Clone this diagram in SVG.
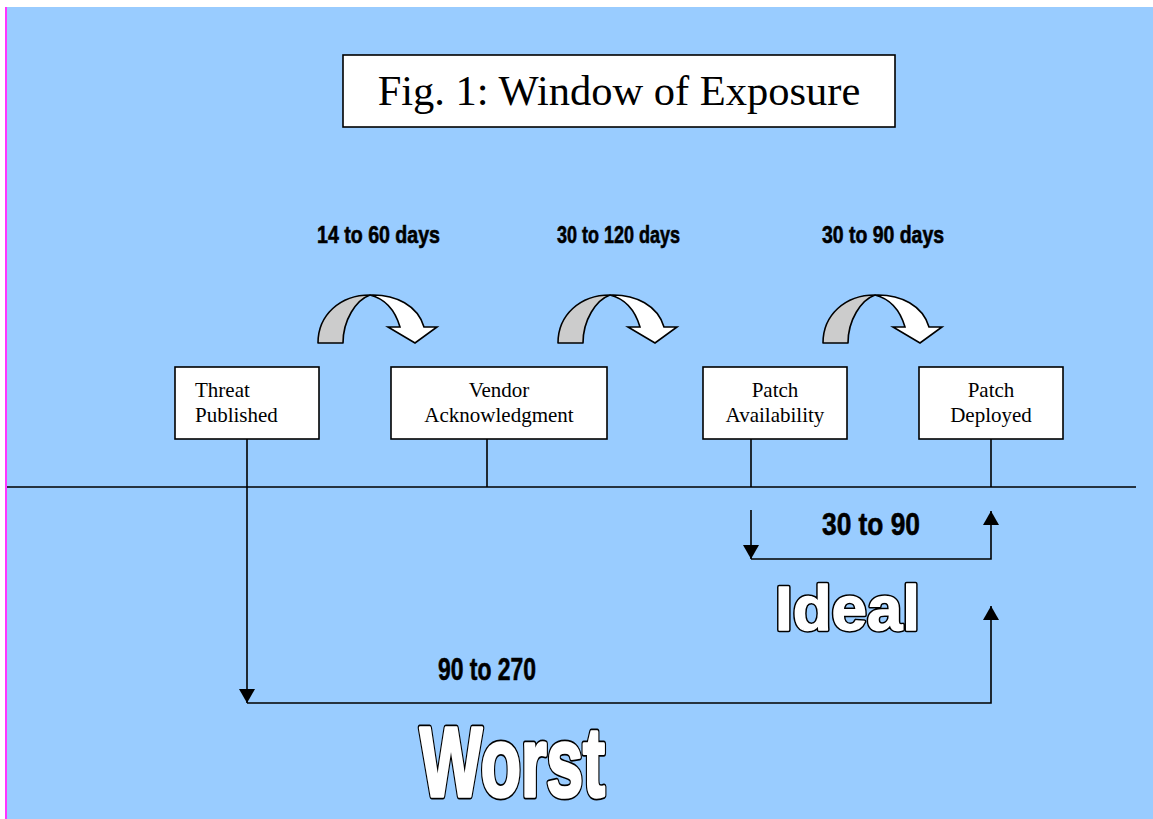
<svg xmlns="http://www.w3.org/2000/svg" width="1153" height="819" viewBox="0 0 1153 819">
<style>
.box{fill:#fff;stroke:#000;stroke-width:1.6}
.serif{font-family:"Liberation Serif","Times New Roman",serif;fill:#000}
.lbl{font-family:"Liberation Sans Narrow","Liberation Sans",Arial,sans-serif;font-weight:bold;fill:#000;stroke:#000;stroke-width:0.6}
.bigo{font-family:"Liberation Sans","Arial",sans-serif;font-weight:bold;fill:#000;stroke:#000;stroke-linejoin:round}
.bigi{font-family:"Liberation Sans","Arial",sans-serif;font-weight:bold;fill:#fff;stroke:#fff;stroke-linejoin:round}
.ln{stroke:#000;stroke-width:1.6;fill:none}
.gray{fill:#cccccc;stroke:#000;stroke-width:1.6;stroke-linejoin:round}
.white{fill:#fff;stroke:#000;stroke-width:1.6;stroke-linejoin:miter}
</style>
<defs>
<marker id="ahb" viewBox="0 0 14 16" refX="14" refY="8" markerWidth="14" markerHeight="16" markerUnits="userSpaceOnUse" orient="auto">
<path d="M0,0 L14,8 L0,16 Z" fill="#000"/>
</marker>
<g id="curve">
<path class="gray" d="M318,343 C318,315 340,295 370,295 C356,300 343,320 343,343 Z"/>
<path class="white" d="M370,295 C396,294 418,306 424,327 L437,327 L415,343 L388,327 L400,327 C395,310 386,299 370,295 Z"/>
</g>
</defs>
<rect x="0" y="0" width="1153" height="819" fill="#fff"/>
<rect x="7" y="7" width="1146" height="812" fill="#99ccff"/>
<line x1="6" y1="7" x2="6" y2="819" stroke="#ff00ff" stroke-width="1.6"/>

<g id="title">
<rect class="box" x="343" y="55" width="552" height="72"/>
<text class="serif" x="619" y="105" font-size="42.5" text-anchor="middle">Fig. 1: Window of Exposure</text>
</g>

<g id="curved-arrows">
<use href="#curve"/>
<use href="#curve" transform="translate(240,0)"/>
<use href="#curve" transform="translate(505,0)"/>
</g>

<g id="duration-labels">
<text class="lbl" x="317" y="243" font-size="24" textLength="123" lengthAdjust="spacingAndGlyphs">14 to 60 days</text>
<text class="lbl" x="557" y="243" font-size="24" textLength="123" lengthAdjust="spacingAndGlyphs">30 to 120 days</text>
<text class="lbl" x="822" y="243" font-size="24" textLength="122" lengthAdjust="spacingAndGlyphs">30 to 90 days</text>
</g>

<g id="threat-published">
<rect class="box" x="175" y="367" width="144" height="72"/>
<text class="serif" x="195" y="397" font-size="21">Threat</text>
<text class="serif" x="195" y="422" font-size="21">Published</text>
</g>
<g id="vendor-ack">
<rect class="box" x="391" y="367" width="216" height="72"/>
<text class="serif" x="499" y="397" font-size="21" text-anchor="middle">Vendor</text>
<text class="serif" x="499" y="422" font-size="21" text-anchor="middle">Acknowledgment</text>
</g>
<g id="patch-availability">
<rect class="box" x="703" y="367" width="144" height="72"/>
<text class="serif" x="775" y="397" font-size="21" text-anchor="middle">Patch</text>
<text class="serif" x="775" y="422" font-size="21" text-anchor="middle">Availability</text>
</g>
<g id="patch-deployed">
<rect class="box" x="919" y="367" width="144" height="72"/>
<text class="serif" x="991" y="397" font-size="21" text-anchor="middle">Patch</text>
<text class="serif" x="991" y="422" font-size="21" text-anchor="middle">Deployed</text>
</g>

<g id="connectors">
<line class="ln" x1="7" y1="487" x2="1136" y2="487"/>
<line class="ln" x1="487" y1="439" x2="487" y2="487"/>
<line class="ln" x1="751" y1="439" x2="751" y2="487"/>
<line class="ln" x1="991" y1="439" x2="991" y2="487"/>
<path class="ln" d="M247,439 L247,703" marker-end="url(#ahb)"/>
<path class="ln" d="M247,703 L991,703 L991,606" marker-end="url(#ahb)"/>
<path class="ln" d="M751,510 L751,559" marker-end="url(#ahb)"/>
<path class="ln" d="M751,559 L991,559 L991,511" marker-end="url(#ahb)"/>
</g>

<g id="range-labels">
<text class="lbl" x="822" y="535" font-size="32" textLength="98" lengthAdjust="spacingAndGlyphs">30 to 90</text>
<text class="lbl" x="438" y="680" font-size="32" textLength="98" lengthAdjust="spacingAndGlyphs">90 to 270</text>
<text class="bigo" x="775" y="630" font-size="63" stroke-width="4.4" textLength="145" lengthAdjust="spacingAndGlyphs">Ideal</text>
<text class="bigi" x="775" y="630" font-size="63" stroke-width="1.4" textLength="145" lengthAdjust="spacingAndGlyphs">Ideal</text>
<text class="bigo" x="420" y="796" font-size="98" stroke-width="7" textLength="185" lengthAdjust="spacingAndGlyphs">Worst</text>
<text class="bigi" x="420" y="796" font-size="98" stroke-width="3.6" textLength="185" lengthAdjust="spacingAndGlyphs">Worst</text>
</g>
</svg>
